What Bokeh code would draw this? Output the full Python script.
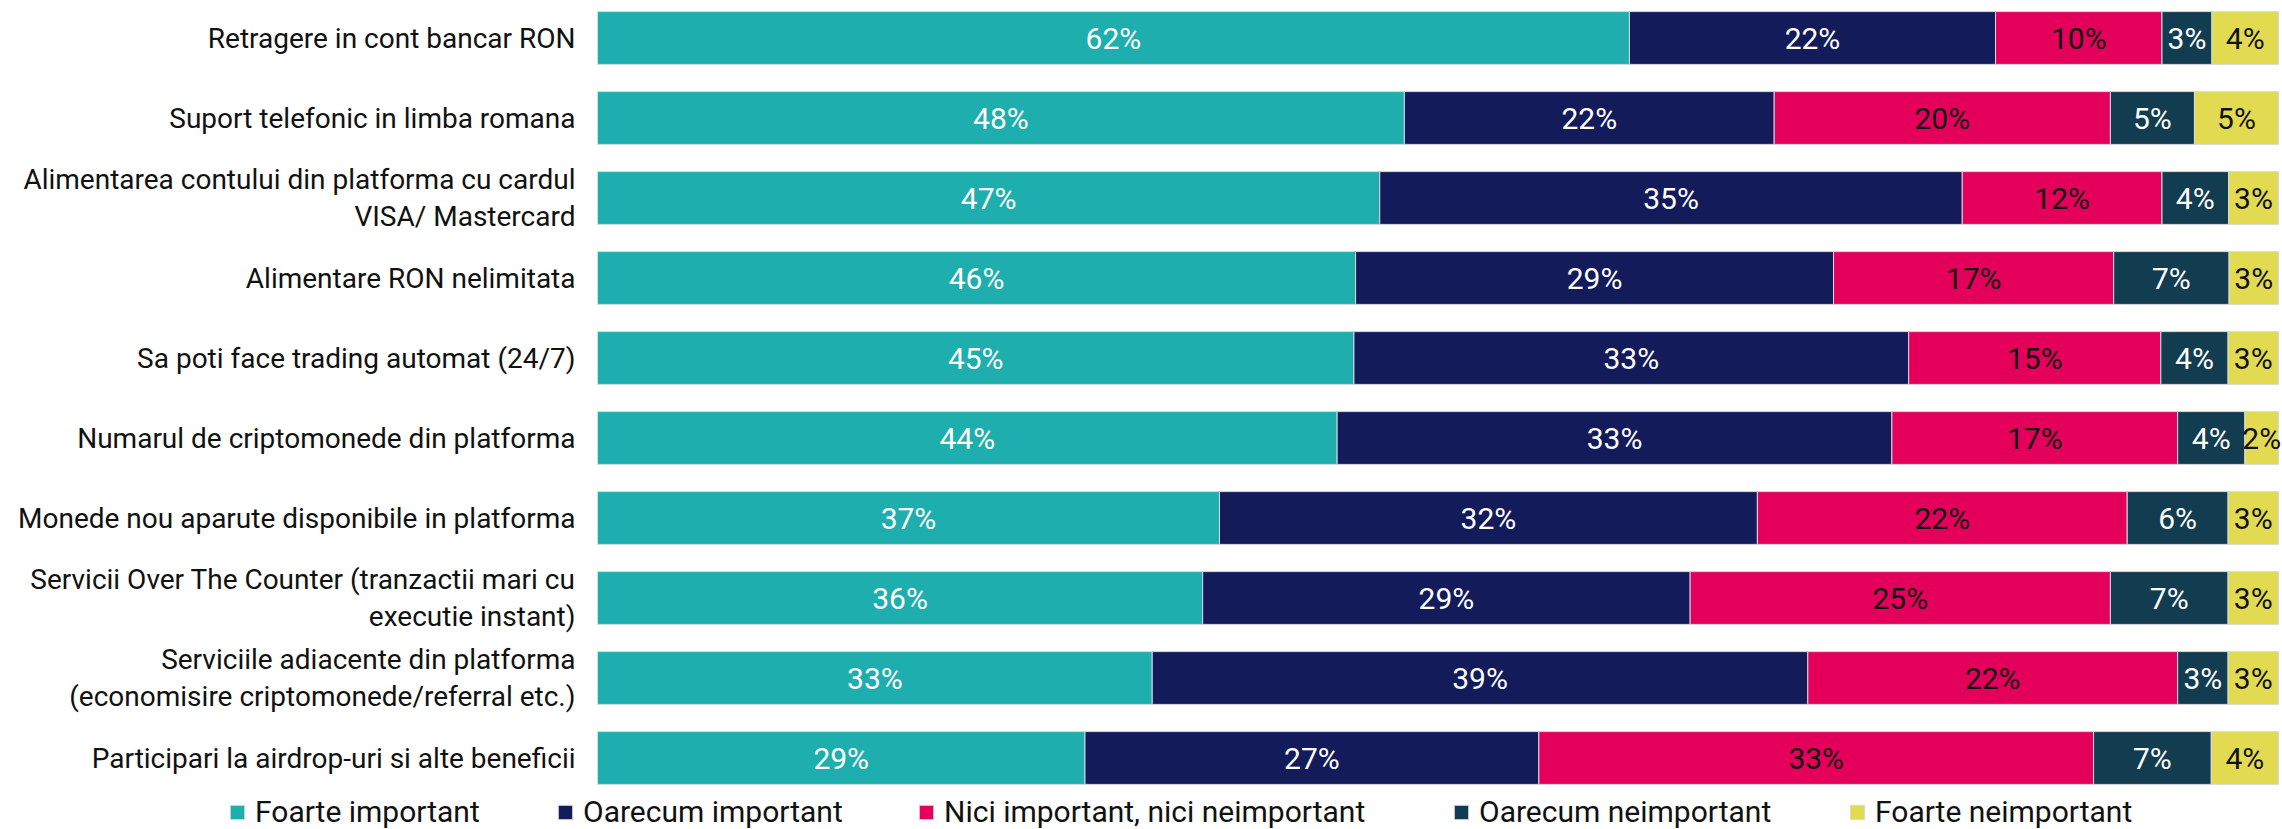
from bokeh.plotting import figure
from bokeh.models import Range1d, Legend, LegendItem, ColumnDataSource
from bokeh.embed import file_html
from bokeh.resources import INLINE
from bokeh.core.properties import value

categories = [
    "Retragere in cont bancar RON",
    "Suport telefonic in limba romana",
    "Alimentarea contului din platforma cu cardul\nVISA/ Mastercard",
    "Alimentare RON nelimitata",
    "Sa poti face trading automat (24/7)",
    "Numarul de criptomonede din platforma",
    "Monede nou aparute disponibile in platforma",
    "Servicii Over The Counter (tranzactii mari cu\nexecutie instant)",
    "Serviciile adiacente din platforma\n(economisire criptomonede/referral etc.)",
    "Participari la airdrop-uri si alte beneficii",
]
series_names = ["Foarte important", "Oarecum important", "Nici important, nici neimportant",
                "Oarecum neimportant", "Foarte neimportant"]
foarte_important = [62, 48, 47, 46, 45, 44, 37, 36, 33, 29]
oarecum_important = [22, 22, 35, 29, 33, 33, 32, 29, 39, 27]
nici_important = [10, 20, 12, 17, 15, 17, 22, 25, 22, 33]
oarecum_neimportant = [3, 5, 4, 7, 4, 4, 6, 7, 3, 7]
foarte_neimportant = [4, 5, 3, 3, 3, 2, 3, 3, 3, 4]

series = [foarte_important, oarecum_important, nici_important, oarecum_neimportant, foarte_neimportant]
colors = ["#1EAEAE", "#131B5B", "#E4005A", "#123C4F", "#E2DA50"]
label_colors = ["#FFFFFF", "#FFFFFF", "#111111", "#FFFFFF", "#111111"]

FONT = "Roboto"
W, H = 2282, 829

# layout (pixels): bar area spans x 597..2278, row centres start at 37.5, step 80
BAR_L, BAR_R = 597, 2278
ROW0, STEP = 37.5, 80.0
ppu = (BAR_R - BAR_L) / 100.0
x_start = -BAR_L / ppu
x_end = 100 + (W - BAR_R) / ppu
y_top = -ROW0 / STEP
y_bottom = (H - ROW0) / STEP

p = figure(width=W, height=H, output_backend="svg", toolbar_location=None,
           x_range=Range1d(x_start, x_end), y_range=Range1d(y_bottom, y_top),
           x_axis_type=None, y_axis_type=None,
           min_border=0, min_border_left=0, min_border_right=0, min_border_top=0, min_border_bottom=0)
p.outline_line_color = None
p.grid.visible = False
p.background_fill_color = "white"
p.border_fill_color = "white"

rows = list(range(len(categories)))

cat_src = ColumnDataSource(dict(x=[0] * len(rows), y=rows, t=categories))
p.text(x="x", y="y", text="t", source=cat_src, x_offset=-22, text_align="right",
       text_baseline="middle", text_font=value(FONT), text_font_size="28px",
       text_color="#111111", text_line_height=1.1)

totals = [sum(s[i] for s in series) for i in rows]
cum = [0.0] * len(rows)
renderers = []
for j, s in enumerate(series):
    left = [cum[i] for i in rows]
    right = [cum[i] + s[i] / totals[i] * 100 for i in rows]
    cum = right
    src = ColumnDataSource(dict(y=rows, left=left, right=right,
                                mid=[(a + b) / 2 for a, b in zip(left, right)],
                                lab=[f"{v}%" for v in s]))
    r = p.hbar(y="y", left="left", right="right", height=0.66, source=src,
               fill_color=colors[j], line_color="#d6dae3", line_width=1)
    renderers.append(r)
    p.text(x="mid", y="y", text="lab", source=src, text_align="center", text_baseline="middle",
           text_font=value(FONT), text_font_size="30px", text_color=label_colors[j])

legend_px = [228, 556, 917, 1452, 1848]
for j, r in enumerate(renderers):
    lg = Legend(items=[LegendItem(label=series_names[j], renderers=[r])],
                location=(legend_px[j], 0), orientation="horizontal",
                padding=0, margin=0, border_line_color=None, background_fill_alpha=0,
                glyph_width=18, glyph_height=18, label_standoff=9, label_height=34,
                label_text_font=FONT, label_text_font_size="30px", label_text_color="#111111")
    p.add_layout(lg, "center")

open("out.html", "w").write(file_html(p, INLINE))
